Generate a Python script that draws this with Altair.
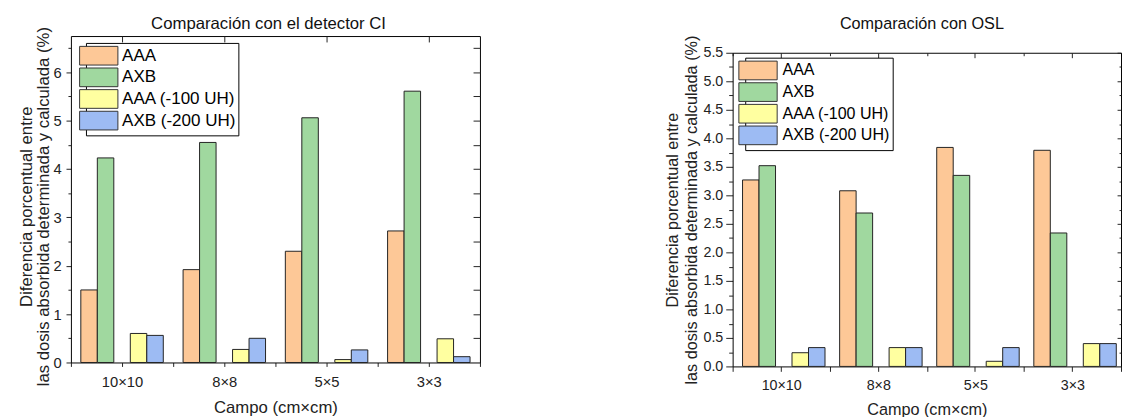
import altair as alt
import pandas as pd

campos = ["10×10", "8×8", "5×5", "3×3"]
series = ["AAA", "AXB", "AAA (-100 UH)", "AXB (-200 UH)"]
slots = ["AAA", "AXB", " ", "AAA (-100 UH)", "AXB (-200 UH)"]
colors = ["#FDC897", "#A0D89F", "#FFFFA0", "#9DBBF3"]

ci_aaa = [1.50, 1.92, 2.30, 2.72]
ci_axb = [4.23, 4.55, 5.06, 5.61]
ci_aaa100 = [0.60, 0.27, 0.06, 0.49]
ci_axb200 = [0.56, 0.50, 0.26, 0.12]

osl_aaa = [3.27, 3.08, 3.84, 3.79]
osl_axb = [3.52, 2.69, 3.35, 2.34]
osl_aaa100 = [0.24, 0.33, 0.09, 0.40]
osl_axb200 = [0.33, 0.33, 0.33, 0.40]

ci_major = [0, 1, 2, 3, 4, 5, 6]
ci_minor = [0.5, 1.5, 2.5, 3.5, 4.5, 5.5, 6.5]
ci_right = [0.5, 1, 1.5, 2, 2.5, 3, 3.5, 4, 4.5, 5, 5.5, 6, 6.5]
osl_major = [0, 0.5, 1, 1.5, 2, 2.5, 3, 3.5, 4, 4.5, 5, 5.5]
osl_minor = [0.25, 0.75, 1.25, 1.75, 2.25, 2.75, 3.25, 3.75, 4.25, 4.75, 5.25]

y_title = ["Diferencia porcentual entre", "las dosis absorbida determinada y calculada (%)"]
x_title = "Campo (cm×cm)"
FONT = "Liberation Sans"
SWATCH = "M-2.05,-1H2.05V1H-2.05Z"


def long_df(cols):
    rows = []
    for s, vals in zip(series, cols):
        for c, v in zip(campos, vals):
            rows.append({"campo": c, "serie": s, "valor": v})
    return pd.DataFrame(rows)


def panel(df, title, w, h, gap, ymax, major, fmt, minor, right_major, right_minor,
          fs_title, fs_tick, fs_axis, fs_leg, title_offset, title_dx, leg_xy, row_pad,
          leg_label_off,
          major_ts, minor_ts, right_ts, right_minor_ts, top_ts, top_b_ts, x_ts,
          line_h, title_pad, label_pad, ytitle_shift, x_label_pad, x_title_pad):
    xscale = alt.Scale(type="band", domain=campos, paddingInner=0, paddingOuter=0)
    yscale = alt.Scale(domain=[0, ymax], nice=False, zero=True, range=[h, gap])
    base = alt.Chart(df)

    bars = base.mark_bar(stroke="#222", strokeWidth=1).encode(
        x=alt.X("campo:N", scale=xscale, sort=campos,
                axis=alt.Axis(orient="bottom", tickBand="extent", title=x_title,
                              labelAngle=0, tickSize=x_ts, labelPadding=x_label_pad,
                              labelFontSize=fs_tick, titleFontSize=fs_axis,
                              titlePadding=x_title_pad, domain=True)),
        xOffset=alt.XOffset("serie:N", scale=alt.Scale(domain=slots, paddingInner=0,
                                                       paddingOuter=0.6)),
        y=alt.Y("valor:Q", scale=yscale,
                axis=alt.Axis(orient="left", values=major, format=fmt,
                              tickSize=major_ts, labelPadding=label_pad,
                              labelFontSize=fs_tick, titleFontSize=fs_axis,
                              title=y_title, titleLineHeight=line_h,
                              titlePadding=title_pad, domain=True,
                              titleY=(h + gap) / 2 + ytitle_shift)),
        color=alt.Color("serie:N", scale=alt.Scale(domain=series, range=colors),
                        legend=alt.Legend(orient="none", legendX=leg_xy[0],
                                          legendY=leg_xy[1], title=None,
                                          symbolType=SWATCH,
                                          symbolSize=361, symbolStrokeColor="#333",
                                          symbolStrokeWidth=1, symbolOpacity=1,
                                          labelFontSize=fs_leg, labelFont=FONT,
                                          labelColor="black", labelOffset=leg_label_off,
                                          rowPadding=row_pad, padding=3,
                                          strokeColor="black", fillColor="white")),
    )

    layers = [bars]

    # bottom ticks at group centres + left minor ticks
    layers.append(base.mark_point(opacity=0).encode(
        x=alt.X("campo:N", scale=xscale, sort=campos,
                axis=alt.Axis(orient="bottom", labels=False, title=None,
                              tickSize=x_ts)),
        y=alt.Y("valor:Q", scale=yscale,
                axis=alt.Axis(orient="left", values=minor, labels=False,
                              title=None, tickSize=minor_ts)),
    ))

    # frame: top and right lines
    layers.append(base.mark_point(opacity=0).encode(
        x=alt.X("campo:N", scale=xscale, sort=campos,
                axis=alt.Axis(orient="top", labels=False, title=None, ticks=False,
                              domain=True, offset=-gap)),
        y=alt.Y("valor:Q", scale=yscale,
                axis=alt.Axis(orient="right", labels=False, title=None, ticks=False,
                              domain=True)),
    ))

    # inward ticks: top centres, right major
    layers.append(base.mark_point(opacity=0).encode(
        x=alt.X("campo:N", scale=xscale, sort=campos,
                axis=alt.Axis(orient="top", labels=False, title=None,
                              tickSize=top_ts, offset=-(gap + top_ts))),
        y=alt.Y("valor:Q", scale=yscale,
                axis=alt.Axis(orient="right", values=right_major, labels=False,
                              title=None, tickSize=right_ts, offset=-right_ts)),
    ))

    if right_minor is not None:
        layers.append(base.mark_point(opacity=0).encode(
            x=alt.X("campo:N", scale=xscale, sort=campos,
                    axis=alt.Axis(orient="top", labels=False, title=None,
                                  tickBand="extent", tickSize=top_b_ts,
                                  offset=-(gap + top_b_ts))),
            y=alt.Y("valor:Q", scale=yscale,
                    axis=alt.Axis(orient="right", values=right_minor, labels=False,
                                  title=None, tickSize=right_minor_ts,
                                  offset=-right_minor_ts)),
        ))

    return alt.layer(*layers).resolve_axis(x="independent", y="independent").properties(
        width=w, height=h,
        view=alt.ViewBackground(stroke="transparent"),
        title=alt.Title(title, fontSize=fs_title, offset=title_offset, anchor="middle",
                        dx=title_dx, font=FONT, fontWeight="normal", color="#111"),
    )


left = panel(long_df([ci_aaa, ci_axb, ci_aaa100, ci_axb200]),
             "Comparación con el detector CI", 416, 332, 0, 6.75, ci_major, "d",
             ci_minor, ci_right, None,
             17, 15, 17, 17.3, -7, -7, (15.3, 7), -3.3, 13.7,
             5, 3, 7, 2, 6, 3, 4, 18, 0, 5, 7, 8, 11)

right = panel(long_df([osl_aaa, osl_axb, osl_aaa100, osl_axb200]),
              "Comparación con OSL", 395, 336, 17, 5.5, osl_major, ".1f",
              osl_minor, osl_major[1:], osl_minor,
              16.5, 14.5, 16.5, 16.3, 3, -5, (12.8, 22), -4.6, 14.9,
              7, 4, 4, 2, 5, 3, 5, 19, 4, 3, 0, 7, 10)

chart = alt.hconcat(left, right, spacing=186).resolve_scale(color="independent").properties(
    padding={"left": 9, "top": 3, "right": 0, "bottom": 0}
).configure_axis(
    labelFont=FONT, titleFont=FONT, labelColor="#222", titleColor="#222",
    tickColor="#222", domain=False, domainColor="black", domainWidth=1,
    grid=False, titleFontWeight="normal",
).configure_legend(labelFont=FONT)

chart.save("out.html", embed_options={"renderer": "svg", "actions": False})
